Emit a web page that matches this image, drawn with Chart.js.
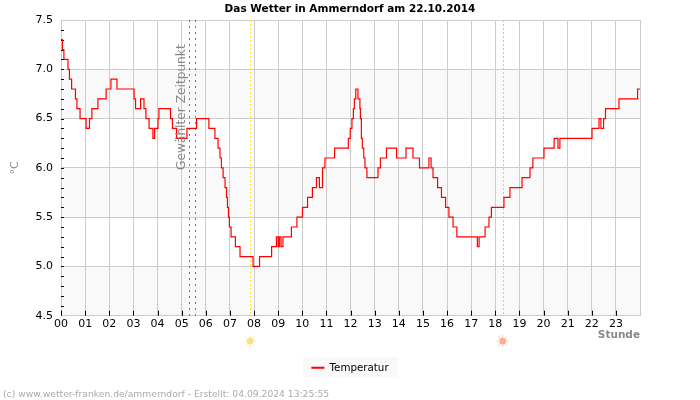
<!DOCTYPE html>
<html><head><meta charset="utf-8">
<style>html,body{margin:0;padding:0;background:#fff}#w{width:700px;height:400px;position:relative}</style>
<script src="https://cdn.jsdelivr.net/npm/chart.js@4"></script>
</head><body><div id="w"><canvas id="c" width="700" height="400"></canvas></div>
<script>
const hours=[0,0.06,0.12,0.29,0.35,0.44,0.60,0.66,0.79,1.04,1.18,1.28,1.53,1.87,2.07,2.32,3.03,3.09,3.30,3.44,3.52,3.65,3.81,3.88,4.02,4.06,4.54,4.62,4.79,5.22,5.62,6.13,6.38,6.51,6.59,6.65,6.72,6.80,6.86,6.90,6.94,6.98,7.05,7.23,7.42,7.96,8.23,8.73,8.93,9.00,9.05,9.12,9.20,9.55,9.78,10.01,10.22,10.42,10.59,10.71,10.84,10.94,11.34,11.91,11.99,12.06,12.12,12.16,12.22,12.31,12.39,12.41,12.45,12.49,12.55,12.60,12.68,13.14,13.24,13.49,13.91,14.30,14.59,14.86,15.25,15.34,15.42,15.61,15.77,15.94,16.08,16.25,16.41,17.26,17.33,17.58,17.74,17.84,18.36,18.61,19.11,19.44,19.56,20.02,20.44,20.60,20.68,22.01,22.30,22.38,22.49,22.57,23.13,23.90,24];
const temps=[7.3,7.2,7.1,7.0,6.9,6.8,6.7,6.6,6.5,6.4,6.5,6.6,6.7,6.8,6.9,6.8,6.7,6.6,6.7,6.6,6.5,6.4,6.3,6.4,6.5,6.6,6.5,6.4,6.3,6.4,6.5,6.4,6.3,6.2,6.1,6.0,5.9,5.8,5.7,5.6,5.5,5.4,5.3,5.2,5.1,5.0,5.1,5.2,5.3,5.2,5.3,5.2,5.3,5.4,5.5,5.6,5.7,5.8,5.9,5.8,6.0,6.1,6.2,6.3,6.4,6.5,6.6,6.7,6.8,6.7,6.6,6.5,6.3,6.2,6.1,6.0,5.9,6.0,6.1,6.2,6.1,6.2,6.1,6.0,6.1,6.0,5.9,5.8,5.7,5.6,5.5,5.4,5.3,5.2,5.3,5.4,5.5,5.6,5.7,5.8,5.9,6.0,6.1,6.2,6.3,6.2,6.3,6.4,6.5,6.4,6.5,6.6,6.7,6.8,6.8];
const selectedHours=[5.32,5.57];
const sunriseHour=7.86, sunsetHour=18.33;
const bands=[[7.0,6.5],[6.0,5.5],[5.0,4.5]];
const minorTicks=[7.4,7.3,7.2,7.1,7.0,6.9,6.8,6.7,6.6,6.5,6.4,6.3,6.2,6.1,6.0,5.9,5.8,5.7,5.6,5.5,5.4,5.3,5.2,5.1,5.0,4.9,4.8,4.7,4.6];
const xTicks=[0,1,2,3,4,5,6,7,8,9,10,11,12,13,14,15,16,17,18,19,20,21,22,23];
const FONT='"DejaVu Sans"';

function vline(ctx,x,top,bottom,color,dash){
  ctx.save();ctx.strokeStyle=color;ctx.lineWidth=1;ctx.setLineDash(dash);
  ctx.beginPath();ctx.moveTo(Math.floor(x)+.5,top);ctx.lineTo(Math.floor(x)+.5,bottom);ctx.stroke();ctx.restore();
}
function sun(ctx,x,y,color){
  ctx.save();ctx.fillStyle=color;ctx.strokeStyle=color;ctx.globalAlpha=.8;ctx.lineWidth=1;
  ctx.beginPath();ctx.arc(x,y,3.5,0,Math.PI*2);ctx.fill();
  ctx.globalAlpha=.6;
  for(let i=0;i<8;i++){const a=i*Math.PI/4;ctx.beginPath();
    ctx.moveTo(x+Math.cos(a)*4,y+Math.sin(a)*4);ctx.lineTo(x+Math.cos(a)*6,y+Math.sin(a)*6);ctx.stroke();}
  ctx.restore();
}
const deco={
  id:'deco',
  beforeDraw(ch){
    const {ctx,chartArea:a,scales:{x,y}}=ch;
    ctx.save();ctx.fillStyle='#f9f9f9';
    bands.forEach(([t,b])=>{const p=y.getPixelForValue(t),q=y.getPixelForValue(b);ctx.fillRect(a.left,p,a.right-a.left,q-p);});
    ctx.fillRect(303,357,95,20);
    ctx.restore();
  },
  beforeDatasetsDraw(ch){
    const {ctx,chartArea:a,scales:{x,y}}=ch;
    selectedHours.forEach(h=>vline(ctx,x.getPixelForValue(h),a.top,a.bottom,'#777',[2,4]));
    vline(ctx,x.getPixelForValue(sunriseHour),a.top,a.bottom,'#ffe920',[2,2]);
    vline(ctx,x.getPixelForValue(sunsetHour),a.top,a.bottom,'#f5c070',[2,2]);
    ctx.save();ctx.strokeStyle='#000';ctx.lineWidth=1;ctx.beginPath();
    minorTicks.forEach(v=>{const p=Math.round(y.getPixelForValue(v))+.5;ctx.moveTo(a.left,p);ctx.lineTo(a.left+3,p);});
    xTicks.forEach(v=>{const p=Math.round(x.getPixelForValue(v))+.5;ctx.moveTo(p,a.bottom);ctx.lineTo(p,a.bottom-5);});
    ctx.stroke();ctx.restore();
  },
  afterDraw(ch){
    const {ctx,chartArea:a,scales:{x,y}}=ch;
    ctx.save();
    ctx.translate(182,170);ctx.rotate(-Math.PI/2);
    ctx.fillStyle='#888';ctx.font='12.2px '+FONT;ctx.textAlign='left';ctx.textBaseline='middle';
    ctx.fillText('Gewählter Zeitpunkt',0,0);
    ctx.restore();
    sun(ctx,x.getPixelForValue(sunriseHour)-0.5,341,'#fbd86a');
    sun(ctx,x.getPixelForValue(sunsetHour)-0.5,341,'#ff9a78');
    ctx.save();ctx.fillStyle='#aaa';ctx.font='9.2px '+FONT;ctx.textAlign='left';ctx.textBaseline='alphabetic';
    ctx.fillText('(c) www.wetter-franken.de/ammerndorf - Erstellt: 04.09.2024 13:25:55',3,397);
    ctx.restore();
  }
};
new Chart(document.getElementById('c'),{
  type:'line',
  data:{datasets:[{label:'Temperatur',data:hours.map((h,i)=>({x:h,y:temps[i]})),borderColor:'#ff0000',backgroundColor:'#ff0000',borderWidth:1.2,pointRadius:0,stepped:true,fill:false}]},
  options:{
    responsive:false,animation:false,
    layout:{padding:{left:0,right:0,top:0,bottom:17}},
    plugins:{
      title:{display:true,text:'Das Wetter in Ammerndorf am 22.10.2014',color:'#000',font:{family:FONT,size:10.5,weight:'bold'},padding:{top:3,bottom:4.4}},
      legend:{display:true,position:'bottom',labels:{color:'#000',font:{family:FONT,size:10.3},usePointStyle:true,pointStyle:'line',pointStyleWidth:13,boxWidth:11,boxHeight:2,padding:4,
        generateLabels(ch){const it=Chart.defaults.plugins.legend.labels.generateLabels(ch);it.forEach(i=>{i.lineWidth=2;});return it;}},onClick:null},
      tooltip:{enabled:false}
    },
    scales:{
      x:{type:'linear',min:0,max:24,
        afterBuildTicks(s){s.ticks=xTicks.concat(24).map(v=>({value:v}));},
        afterFit(s){s.height=43;},
        grid:{color:'#cccccc',lineWidth:1,tickLength:0,drawTicks:false},
        border:{color:'#cccccc'},
        ticks:{color:'#000',font:{family:FONT,size:11},maxRotation:0,autoSkip:false,padding:2,
          callback:v=>v<24?String(v).padStart(2,'0'):''},
        title:{display:true,text:'Stunde',align:'end',color:'#888',font:{family:FONT,size:10.5,weight:'bold'},padding:{top:0,bottom:17}}
      },
      y:{type:'linear',min:4.5,max:7.5,
        afterFit(s){s.width=61;},
        grid:{color:'#cccccc',lineWidth:1,tickLength:0,drawTicks:false},
        border:{color:'#cccccc'},
        ticks:{stepSize:.5,color:'#000',font:{family:FONT,size:11},padding:8,callback:v=>v.toFixed(1)},
        title:{display:true,text:'°C',color:'#888',font:{family:FONT,size:11},padding:{top:9,bottom:0}}
      },
      yRight:{type:'linear',position:'right',min:4.5,max:7.5,
        afterFit(s){s.width=60;},
        grid:{display:false,drawOnChartArea:false},border:{display:false},
        ticks:{display:false}
      }
    }
  },
  plugins:[deco]
});
</script></body></html>
